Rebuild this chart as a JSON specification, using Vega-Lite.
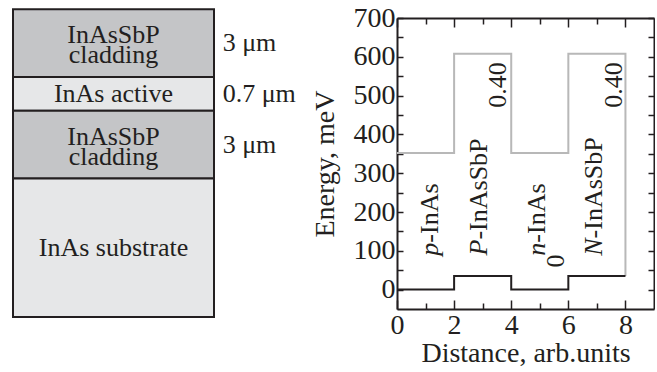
{
  "$schema": "https://vega.github.io/schema/vega-lite/v6.json",
  "background": "white",
  "padding": {"left": 12, "top": 4, "right": 0, "bottom": 0},
  "spacing": 15,
  "config": {
    "font": "Liberation Serif",
    "view": {"stroke": null},
    "text": {"font": "Liberation Serif", "fontSize": 26, "color": "#231f20"}
  },
  "datasets": {
    "layers": [
      {"layer": "InAsSbP cladding (top)", "top": 0, "bottom": 2, "material": "InAsSbP", "label": ["InAsSbP", "cladding"], "thickness": "3 μm"},
      {"layer": "InAs active", "top": 2, "bottom": 3, "material": "InAs", "label": "InAs active", "thickness": "0.7 μm"},
      {"layer": "InAsSbP cladding (bottom)", "top": 3, "bottom": 5, "material": "InAsSbP", "label": ["InAsSbP", "cladding"], "thickness": "3 μm"},
      {"layer": "InAs substrate", "top": 5, "bottom": 9.1, "material": "InAs", "label": "InAs substrate", "thickness": ""}
    ],
    "bands": [
      {"band": "Ec", "x": 0, "E": 352},
      {"band": "Ec", "x": 2, "E": 608},
      {"band": "Ec", "x": 4, "E": 352},
      {"band": "Ec", "x": 6, "E": 608},
      {"band": "Ec", "x": 8, "E": 35},
      {"band": "Ev", "x": 0, "E": 0},
      {"band": "Ev", "x": 2, "E": 35},
      {"band": "Ev", "x": 4, "E": 0},
      {"band": "Ev", "x": 6, "E": 35},
      {"band": "Ev", "x": 8, "E": 35}
    ],
    "regions": [
      {"x": 1.43, "E": 121, "pre": "p", "suf": "-InAs"},
      {"x": 3.15, "E": 129, "pre": "P", "suf": "-InAsSbP"},
      {"x": 5.17, "E": 121, "pre": "n", "suf": "-InAs"},
      {"x": 7.17, "E": 132, "pre": "N", "suf": "-InAsSbP"}
    ],
    "numbers": [
      {"x": 3.81, "E": 469, "t": "0.40"},
      {"x": 7.87, "E": 469, "t": "0.40"},
      {"x": 5.84, "E": 57, "t": "0"}
    ]
  },
  "hconcat": [
    {
      "width": 201,
      "height": 291,
      "data": {"name": "layers"},
      "transform": [{"calculate": "(datum.top + datum.bottom) / 2", "as": "mid"}],
      "layer": [
        {
          "mark": {"type": "rect", "stroke": "#231f20", "strokeWidth": 2},
          "encoding": {
            "x": {"datum": 0, "type": "quantitative", "scale": {"domain": [0, 1], "nice": false, "zero": false}, "axis": null},
            "x2": {"datum": 1},
            "y": {"field": "top", "type": "quantitative", "scale": {"domain": [0.26, 8.86], "reverse": true, "nice": false, "zero": false}, "axis": null},
            "y2": {"field": "bottom"},
            "fill": {"field": "material", "type": "nominal", "scale": {"domain": ["InAsSbP", "InAs"], "range": ["#c4c5c7", "#e6e7e8"]}, "legend": null}
          }
        },
        {
          "transform": [{"filter": "datum.material === 'InAsSbP'"}],
          "mark": {"type": "text", "align": "center", "baseline": "middle", "lineHeight": 20, "dy": -8},
          "encoding": {
            "x": {"datum": 0.5, "type": "quantitative"},
            "y": {"field": "mid", "type": "quantitative"},
            "text": {"field": "label"}
          }
        },
        {
          "transform": [{"filter": "datum.material === 'InAs'"}],
          "mark": {"type": "text", "align": "center", "baseline": "middle"},
          "encoding": {
            "x": {"datum": 0.5, "type": "quantitative"},
            "y": {"field": "mid", "type": "quantitative"},
            "text": {"field": "label"}
          }
        },
        {
          "mark": {"type": "text", "align": "left", "baseline": "middle"},
          "encoding": {
            "x": {"datum": 1.043, "type": "quantitative"},
            "y": {"field": "mid", "type": "quantitative"},
            "text": {"field": "thickness"}
          }
        }
      ]
    },
    {
      "width": 257,
      "height": 291,
      "layer": [
        {
          "data": {"name": "bands"},
          "mark": {"type": "line", "interpolate": "step-after", "strokeWidth": 2},
          "encoding": {
            "x": {
              "field": "x", "type": "quantitative",
              "scale": {"domain": [0, 9], "nice": false, "zero": false},
              "axis": {
                "orient": "bottom", "values": [0, 2, 4, 6, 8], "grid": false,
                "tickSize": -9, "tickWidth": 1.5, "tickColor": "#231f20",
                "domainColor": "#231f20", "domainWidth": 2,
                "labelFont": "Liberation Serif", "labelFontSize": 28, "labelColor": "#231f20",
                "labelPadding": 11, "labelFlush": false, "labelOverlap": false,
                "title": "Distance, arb.units", "titleFont": "Liberation Serif", "titleFontSize": 28,
                "titleFontWeight": "normal", "titleColor": "#231f20", "titlePadding": 0
              }
            },
            "y": {
              "field": "E", "type": "quantitative",
              "scale": {"domain": [-50, 700], "nice": false, "zero": false},
              "axis": {
                "orient": "left",
                "values": [0, 50, 100, 150, 200, 250, 300, 350, 400, 450, 500, 550, 600, 650, 700],
                "labelExpr": "datum.value % 100 === 0 ? datum.label : ''",
                "grid": false,
                "tickSize": -6, "tickWidth": 1.5, "tickColor": "#231f20",
                "domainColor": "#231f20", "domainWidth": 2,
                "labelFont": "Liberation Serif", "labelFontSize": 28, "labelColor": "#231f20",
                "labelPadding": 8, "labelFlush": false, "labelOverlap": false, "labelBound": false,
                "title": "Energy, meV", "titleFont": "Liberation Serif", "titleFontSize": 28,
                "titleFontWeight": "normal", "titleColor": "#231f20", "titlePadding": 14
              }
            },
            "color": {"field": "band", "type": "nominal", "scale": {"domain": ["Ec", "Ev"], "range": ["#b8b8b8", "#231f20"]}, "legend": null}
          }
        },
        {
          "data": {"name": "regions"},
          "mark": {"type": "text", "angle": 270, "align": "right", "baseline": "alphabetic", "fontStyle": "italic"},
          "encoding": {
            "x": {
              "field": "x", "type": "quantitative",
              "axis": {
                "orient": "top", "values": [0, 2, 4, 6, 8], "grid": false, "labels": false, "title": null,
                "tickSize": -9, "tickWidth": 1.5, "tickColor": "#231f20",
                "domainColor": "#231f20", "domainWidth": 2
              }
            },
            "y": {
              "field": "E", "type": "quantitative",
              "axis": {
                "orient": "right",
                "values": [0, 50, 100, 150, 200, 250, 300, 350, 400, 450, 500, 550, 600, 650, 700],
                "grid": false, "labels": false, "title": null,
                "tickSize": -6, "tickWidth": 1.5, "tickColor": "#231f20",
                "domainColor": "#231f20", "domainWidth": 2
              }
            },
            "text": {"field": "pre"}
          }
        },
        {
          "data": {"name": "regions"},
          "mark": {"type": "text", "angle": 270, "align": "left", "baseline": "alphabetic"},
          "encoding": {
            "x": {
              "field": "x", "type": "quantitative",
              "axis": {
                "orient": "bottom", "values": [1, 3, 5, 7], "grid": false, "labels": false, "title": null,
                "domain": false, "tickSize": -6, "tickWidth": 1.5, "tickColor": "#231f20"
              }
            },
            "y": {"field": "E", "type": "quantitative", "axis": null},
            "text": {"field": "suf"}
          }
        },
        {
          "data": {"name": "numbers"},
          "mark": {"type": "text", "angle": 270, "align": "left", "baseline": "alphabetic"},
          "encoding": {
            "x": {
              "field": "x", "type": "quantitative",
              "axis": {
                "orient": "top", "values": [1, 3, 5, 7], "grid": false, "labels": false, "title": null,
                "domain": false, "tickSize": -6, "tickWidth": 1.5, "tickColor": "#231f20"
              }
            },
            "y": {"field": "E", "type": "quantitative", "axis": null},
            "text": {"field": "t"}
          }
        }
      ],
      "resolve": {"axis": {"x": "independent", "y": "independent"}}
    }
  ]
}
